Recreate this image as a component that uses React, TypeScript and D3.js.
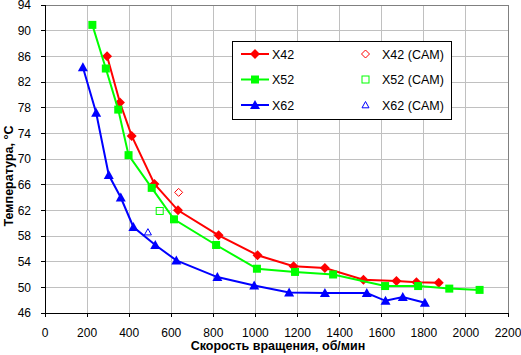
import React from "react";
import * as d3 from "d3";

const x42: [number, number][] = [
  [295, 86], [356, 78.8], [412, 73.6], [520, 66.1], [632, 62], [825, 58.1],
  [1010, 55], [1181, 53.3], [1330, 53], [1513, 51.2], [1670, 51], [1765, 50.8], [1871, 50.7],
];
const x52: [number, number][] = [
  [225, 90.9], [289, 84.1], [348, 77.7], [397, 70.6], [507, 65.5], [613, 60.6], [813, 56.6],
  [1007, 52.9], [1188, 52.4], [1369, 52.0], [1616, 50.2], [1773, 50.2], [1921, 49.8], [2065, 49.6],
];
const x62: [number, number][] = [
  [180, 84.3], [243, 77.2], [303, 67.5], [360, 64.0], [420, 59.4], [524, 56.6], [624, 54.2],
  [819, 51.6], [994, 50.3], [1160, 49.2], [1330, 49.1], [1529, 49.1], [1618, 47.9], [1700, 48.5], [1805, 47.6],
];
const x42cam: [number, number][] = [[635, 64.8]];
const x52cam: [number, number][] = [[545, 61.9]];
const x62cam: [number, number][] = [[489, 58.6]];

const xTicks = [0, 200, 400, 600, 800, 1000, 1200, 1400, 1600, 1800, 2000, 2200];
const yTicks = [46, 50, 54, 58, 62, 66, 70, 74, 78, 82, 86, 90, 94];

const seriesNames = ["X42", "X52", "X62"];
const camNames = ["X42 (CAM)", "X52 (CAM)", "X62 (CAM)"];
const xTitle = "Скорость вращения, об/мин";
const yTitle = "Температура, °C";

const W = 521, H = 355;
const L = 45, R = 508, T = 5, B = 313;
const FONT = "'Liberation Sans', Arial, sans-serif";

const colors = ["#ff0000", "#00ff00", "#0000ff"];

function Marker({ kind, x, y, color, hollow }: { kind: string; x: number; y: number; color: string; hollow?: boolean }) {
  const fill = hollow ? "none" : color;
  const sw = hollow ? 1 : 0;
  if (kind === "diamond") {
    const s = hollow ? 4 : 5;
    return <path d={`M${x},${y - s}L${x + s},${y}L${x},${y + s}L${x - s},${y}Z`} fill={fill} stroke={color} strokeWidth={sw} />;
  }
  if (kind === "square") {
    const s = hollow ? 3.5 : 4;
    return <rect x={x - s} y={y - s} width={2 * s} height={2 * s} fill={fill} stroke={color} strokeWidth={sw} />;
  }
  const s = hollow ? 3.5 : 5;
  return <path d={`M${x},${y - s}L${x + s},${y + s * 0.8}L${x - s},${y + s * 0.8}Z`} fill={fill} stroke={color} strokeWidth={sw} />;
}

export default function App() {
  const xs = d3.scaleLinear().domain([0, 2200]).range([L, R]);
  const ys = d3.scaleLinear().domain([46, 94]).range([B, T]);
  const line = d3.line<[number, number]>().x((d) => xs(d[0])).y((d) => ys(d[1]));
  const series = [x42, x52, x62];
  const cams = [x42cam, x52cam, x62cam];
  const kinds = ["diamond", "square", "triangle"];

  const lgX = 232, lgY = 41, lgW = 219, lgH = 78;
  const rowY = [54, 79.5, 105];

  return (
    <svg width={W} height={H} style={{ position: "absolute", left: 0, top: 0, background: "#fff" }} fontFamily={FONT}>
      <rect x={0} y={0} width={W} height={H} fill="#fff" />
      {/* grid */}
      {xTicks.map((t) => (
        <line key={"gx" + t} x1={xs(t)} x2={xs(t)} y1={T} y2={B} stroke="#c0c0c0" strokeWidth={1} shapeRendering="crispEdges" />
      ))}
      {yTicks.map((t) => (
        <line key={"gy" + t} x1={L} x2={R} y1={ys(t)} y2={ys(t)} stroke="#c0c0c0" strokeWidth={1} shapeRendering="crispEdges" />
      ))}
      {/* border */}
      <line x1={L} x2={R} y1={T} y2={T} stroke="#808080" strokeWidth={1} shapeRendering="crispEdges" />
      <line x1={R} x2={R} y1={T} y2={B} stroke="#808080" strokeWidth={1} shapeRendering="crispEdges" />
      {/* axes */}
      <line x1={L} x2={L} y1={T} y2={B} stroke="#000" strokeWidth={1} shapeRendering="crispEdges" />
      <line x1={L} x2={R} y1={B} y2={B} stroke="#000" strokeWidth={1} shapeRendering="crispEdges" />
      {yTicks.map((t) => (
        <g key={"ty" + t}>
          <line x1={L - 4} x2={L} y1={ys(t)} y2={ys(t)} stroke="#000" shapeRendering="crispEdges" />
          <text x={31} y={ys(t)} dy="0.35em" textAnchor="end" fontSize={12} fill="#000">{t}</text>
        </g>
      ))}
      {xTicks.map((t) => (
        <g key={"tx" + t}>
          <line x1={xs(t)} x2={xs(t)} y1={B} y2={B + 4} stroke="#000" shapeRendering="crispEdges" />
          <text x={xs(t)} y={337} textAnchor="middle" fontSize={12} fill="#000">{t}</text>
        </g>
      ))}
      <text x={278} y={350} textAnchor="middle" fontSize={12.5} fontWeight="bold" fill="#000">{xTitle}</text>
      <text transform="translate(13,176) rotate(-90)" textAnchor="middle" fontSize={12.5} fontWeight="bold" fill="#000">{yTitle}</text>

      {/* series */}
      {series.map((s, i) => (
        <g key={"s" + i}>
          <path d={line(s) || ""} fill="none" stroke={colors[i]} strokeWidth={2} />
          {s.map((d, j) => (
            <Marker key={j} kind={kinds[i]} x={xs(d[0])} y={ys(d[1])} color={colors[i]} />
          ))}
        </g>
      ))}
      {cams.map((s, i) => (
        <g key={"c" + i}>
          {s.map((d, j) => (
            <Marker key={j} kind={kinds[i]} x={xs(d[0])} y={ys(d[1])} color={colors[i]} hollow />
          ))}
        </g>
      ))}

      {/* legend */}
      <rect x={lgX + 0.5} y={lgY + 0.5} width={lgW} height={lgH} fill="#fff" stroke="#000" strokeWidth={1} />
      {seriesNames.map((n, i) => (
        <g key={"l" + i}>
          <line x1={241} x2={269} y1={rowY[i]} y2={rowY[i]} stroke={colors[i]} strokeWidth={2} />
          <Marker kind={kinds[i]} x={255} y={rowY[i]} color={colors[i]} />
          <text x={272} y={rowY[i]} dy="0.36em" fontSize={12.5} fill="#000">{n}</text>
        </g>
      ))}
      {camNames.map((n, i) => (
        <g key={"lc" + i}>
          <Marker kind={kinds[i]} x={365.5} y={rowY[i]} color={colors[i]} hollow />
          <text x={382} y={rowY[i]} dy="0.36em" fontSize={12.5} fill="#000">{n}</text>
        </g>
      ))}
    </svg>
  );
}
